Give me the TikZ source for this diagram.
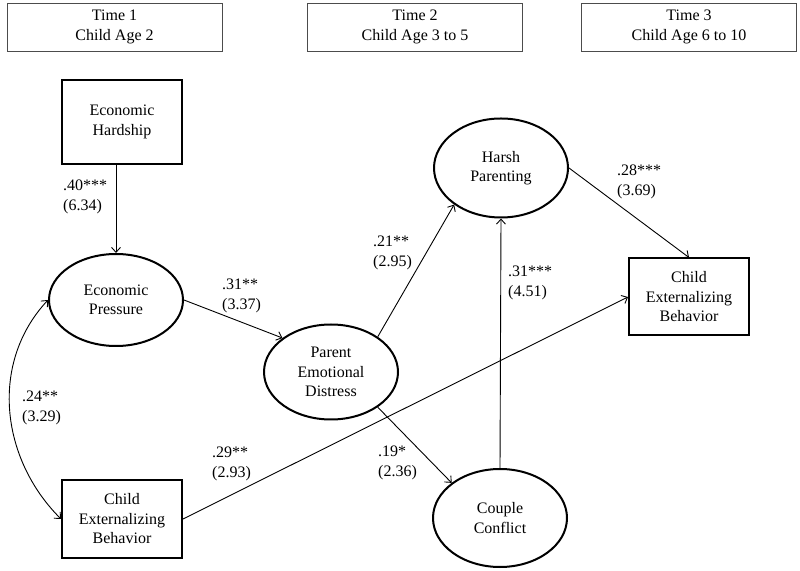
\documentclass[tikz,border=0pt]{standalone}
\usepackage{fontspec}
\setmainfont{Liberation Serif}
\usepackage{tikz}
\usetikzlibrary{shapes}
\usetikzlibrary{arrows.meta}
\newcommand{\figfont}{\fontsize{16}{19.5}\selectfont}

\begin{document}
\begin{tikzpicture}[x=1pt,y=1pt,>={Straight Barb[length=5pt,width=9pt]}]
\tikzstyle{period} = [rectangle, draw=black!70, line width=0.8pt, minimum width=215pt, minimum height=48pt, align=center, font=\figfont]
\tikzstyle{observed} = [rectangle, draw=black, line width=2pt, minimum width=120pt, minimum height=78pt, align=center, font=\figfont]
\tikzstyle{latent} = [ellipse, draw=black, line width=2pt, minimum width=134pt, minimum height=96pt, inner sep=0pt, align=center, font=\figfont]
\tikzstyle{coef} = [anchor=west, inner sep=0pt, align=left, font=\figfont]
\tikzstyle{path} = [draw, line width=0.9pt, ->]
\useasboundingbox (0,0) rectangle (800,570);
% time points
\node [period] (time1) at (114.5,543) {Time 1\\Child Age 2};
\node [period] (time2) at (415,543) {Time 2\\Child Age 3 to 5};
\node [period] (time3) at (689,543) {Time 3\\Child Age 6 to 10};
% variables
\node [observed, minimum height=84pt] (hardship) at (122,448) {Economic\\Hardship};
\node [latent, minimum height=92pt] (pressure) at (116,270) {Economic\\Pressure};
\node [observed] (childA) at (122,51) {Child\\Externalizing\\Behavior};
\node [latent, minimum height=95pt] (distress) at (331,198) {Parent\\Emotional\\Distress};
\node [latent, minimum height=99pt] (harsh) at (501,402) {Harsh\\Parenting};
\node [latent, minimum height=98pt] (conflict) at (500,52) {Couple\\Conflict};
\node [observed, minimum height=77pt] (childB) at (689,273) {Child\\Externalizing\\Behavior};
% paths
\draw [path] (hardship.south -| pressure.north) -- (pressure.north);
\draw [path] (pressure.east) -- (distress.145);
\draw [path] (distress.37) -- (harsh.218);
\draw [path] (distress.-37) -- (conflict.144);
\draw [path] (conflict.north) -- (harsh.south);
\draw [path] (harsh.east) -- (childB.north);
\draw [path] (childA.east) -- (childB.west);
\draw [path, <->] (pressure.west) to[out=227,in=135] (childA.west);
% coefficients
\node [coef] (c40) at (63,373) {.40***\\(6.34)};
\node [coef] (c31a) at (222,274) {.31**\\(3.37)};
\node [coef] (c21) at (373,317) {.21**\\(2.95)};
\node [coef] (c31b) at (508,287) {.31***\\(4.51)};
\node [coef] (c19) at (378,107) {.19*\\(2.36)};
\node [coef] (c24) at (22,162) {.24**\\(3.29)};
\node [coef] (c29) at (212,106) {.29**\\(2.93)};
\node [coef] (c28) at (617,388) {.28***\\(3.69)};
\end{tikzpicture}
\end{document}
